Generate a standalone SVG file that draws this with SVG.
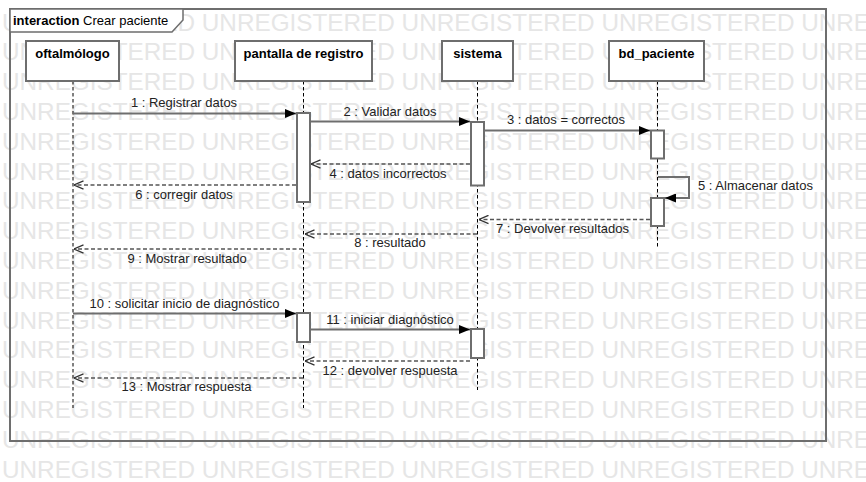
<svg xmlns="http://www.w3.org/2000/svg" width="866" height="482" viewBox="0 0 866 482">
<style>
.wm{font-family:"Liberation Sans",Arial,sans-serif;font-size:24.3px;fill:#e6e6e6}
.frame{fill:none;stroke:#6e6e6e;stroke-width:2}
.tab{fill:#fff;stroke:#6e6e6e;stroke-width:1.5}
.box{fill:#fff;stroke:#6e6e6e;stroke-width:2}
.hdr{font-family:"Liberation Sans",Arial,sans-serif;font-size:13px;font-weight:bold;fill:#000;text-anchor:middle}
.ttl{font-family:"Liberation Sans",Arial,sans-serif;font-size:13px;fill:#000}
.lbl{font-family:"Liberation Sans",Arial,sans-serif;font-size:13px;fill:#222;text-anchor:middle}
.life{stroke:#000;stroke-width:1;stroke-dasharray:3.5 2.5;fill:none}
.act{fill:#fff;stroke:#6e6e6e;stroke-width:2}
.call{stroke:#6e6e6e;stroke-width:2;fill:none;marker-end:url(#fillArrow)}
.ret{stroke:#555;stroke-width:1.5;stroke-dasharray:4 2.5;fill:none;marker-end:url(#openArrow)}
</style>
<defs>
<marker id="fillArrow" viewBox="0 0 11 9" refX="11" refY="4.5" markerWidth="11" markerHeight="9" orient="auto" markerUnits="userSpaceOnUse">
<path d="M0,0 L11,4.5 L0,9 z" fill="#000"/>
</marker>
<marker id="openArrow" viewBox="0 0 10 10" refX="9.5" refY="5" markerWidth="10" markerHeight="10" orient="auto" markerUnits="userSpaceOnUse">
<path d="M0,0.8 L9.5,5 L0,9.2" fill="none" stroke="#333" stroke-width="1.3"/>
</marker>
</defs>
<rect width="866" height="482" fill="#fff"/>
<g id="watermark">
<text class="wm" x="2" y="30.5">UNREGISTERED UNREGISTERED UNREGISTERED UNREGISTERED UNREGISTERED</text>
<text class="wm" x="2" y="60.3">UNREGISTERED UNREGISTERED UNREGISTERED UNREGISTERED UNREGISTERED</text>
<text class="wm" x="2" y="90.1">UNREGISTERED UNREGISTERED UNREGISTERED UNREGISTERED UNREGISTERED</text>
<text class="wm" x="2" y="119.9">UNREGISTERED UNREGISTERED UNREGISTERED UNREGISTERED UNREGISTERED</text>
<text class="wm" x="2" y="149.7">UNREGISTERED UNREGISTERED UNREGISTERED UNREGISTERED UNREGISTERED</text>
<text class="wm" x="2" y="179.5">UNREGISTERED UNREGISTERED UNREGISTERED UNREGISTERED UNREGISTERED</text>
<text class="wm" x="2" y="209.3">UNREGISTERED UNREGISTERED UNREGISTERED UNREGISTERED UNREGISTERED</text>
<text class="wm" x="2" y="239.1">UNREGISTERED UNREGISTERED UNREGISTERED UNREGISTERED UNREGISTERED</text>
<text class="wm" x="2" y="268.9">UNREGISTERED UNREGISTERED UNREGISTERED UNREGISTERED UNREGISTERED</text>
<text class="wm" x="2" y="298.7">UNREGISTERED UNREGISTERED UNREGISTERED UNREGISTERED UNREGISTERED</text>
<text class="wm" x="2" y="328.5">UNREGISTERED UNREGISTERED UNREGISTERED UNREGISTERED UNREGISTERED</text>
<text class="wm" x="2" y="358.3">UNREGISTERED UNREGISTERED UNREGISTERED UNREGISTERED UNREGISTERED</text>
<text class="wm" x="2" y="388.1">UNREGISTERED UNREGISTERED UNREGISTERED UNREGISTERED UNREGISTERED</text>
<text class="wm" x="2" y="417.9">UNREGISTERED UNREGISTERED UNREGISTERED UNREGISTERED UNREGISTERED</text>
<text class="wm" x="2" y="447.7">UNREGISTERED UNREGISTERED UNREGISTERED UNREGISTERED UNREGISTERED</text>
<text class="wm" x="2" y="477.5">UNREGISTERED UNREGISTERED UNREGISTERED UNREGISTERED UNREGISTERED</text>
</g>
<g id="frame">
<rect class="frame" x="10" y="9" width="816" height="432"/>
<path class="tab" d="M10,9 H183 V20 L172,32 H10 Z"/>
<text class="ttl" x="13" y="25"><tspan font-weight="bold">interaction</tspan> Crear paciente</text>
</g>
<g id="oftalmologo">
<line class="life" x1="73" y1="81" x2="73" y2="408"/>
<rect class="box" x="26" y="41" width="93" height="40"/>
<text class="hdr" x="72.5" y="58">oftalmólogo</text>
</g>
<g id="pantalla">
<line class="life" x1="303.5" y1="81" x2="303.5" y2="408"/>
<rect class="box" x="235" y="41" width="137" height="40"/>
<text class="hdr" x="303.5" y="58">pantalla de registro</text>
<rect class="act" x="297" y="113" width="13" height="89"/>
<rect class="act" x="297" y="313" width="13" height="29"/>
</g>
<g id="sistema">
<line class="life" x1="477.5" y1="81" x2="477.5" y2="390"/>
<rect class="box" x="442" y="41" width="71" height="40"/>
<text class="hdr" x="477.5" y="58">sistema</text>
<rect class="act" x="471" y="122" width="13" height="63.5"/>
<rect class="act" x="471" y="329" width="13" height="29"/>
</g>
<g id="bd_paciente">
<line class="life" x1="657.5" y1="81" x2="657.5" y2="247"/>
<rect class="box" x="609" y="41" width="95" height="40"/>
<text class="hdr" x="656.5" y="58">bd_paciente</text>
<rect class="act" x="651" y="130.5" width="13" height="28"/>
<rect class="act" x="651" y="198" width="13" height="28"/>
</g>
<g id="connectors">
<path class="call" d="M73,113.5 H296"/>
<text class="lbl" x="184" y="107">1 : Registrar datos</text>
<path class="call" d="M310,121.5 H470"/>
<text class="lbl" x="390" y="116">2 : Validar datos</text>
<path class="call" d="M484,130.5 H650"/>
<text class="lbl" x="566" y="124">3 : datos = correctos</text>
<path class="ret" d="M470,164 H311"/>
<text class="lbl" x="388" y="178">4 : datos incorrectos</text>
<path class="call" d="M658,177 H689 V198 H665"/>
<text class="lbl" x="698" y="190" text-anchor="start" style="text-anchor:start">5 : Almacenar datos</text>
<path class="ret" d="M296,185 H74"/>
<text class="lbl" x="184" y="199">6 : corregir datos</text>
<path class="ret" d="M650,219.5 H479"/>
<text class="lbl" x="562.5" y="232.5">7 : Devolver resultados</text>
<path class="ret" d="M477,234 H305"/>
<text class="lbl" x="390" y="246.5">8 : resultado</text>
<path class="ret" d="M303,249 H74"/>
<text class="lbl" x="187" y="263">9 : Mostrar resultado</text>
<path class="call" d="M73,313.5 H296"/>
<text class="lbl" x="184.5" y="307.5">10 : solicitar inicio de diagnóstico</text>
<path class="call" d="M310,329.5 H470"/>
<text class="lbl" x="390" y="323.5">11 : iniciar diagnóstico</text>
<path class="ret" d="M470,361 H305"/>
<text class="lbl" x="390" y="374.5">12 : devolver respuesta</text>
<path class="ret" d="M303,378 H74"/>
<text class="lbl" x="186.5" y="391">13 : Mostrar respuesta</text>
</g>
</svg>
